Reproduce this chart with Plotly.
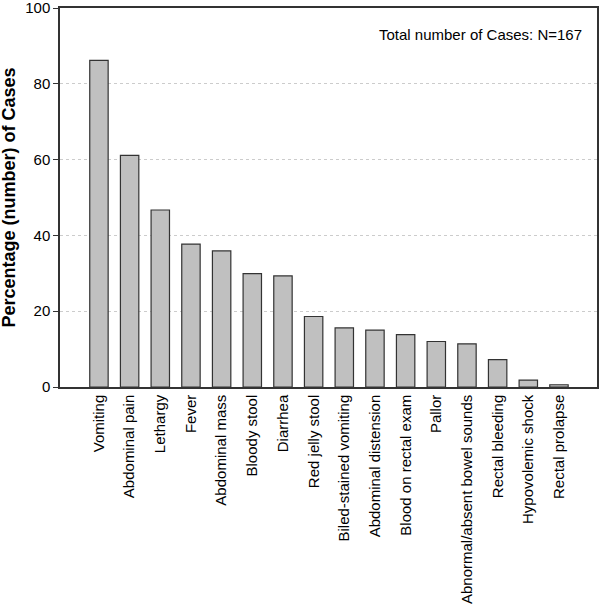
import plotly.graph_objects as go

categories = ["Vomiting", "Abdominal pain", "Lethargy", "Fever", "Abdominal mass",
              "Bloody stool", "Diarrhea", "Red jelly stool", "Biled-stained vomiting",
              "Abdominal distension", "Blood on rectal exam", "Pallor",
              "Abnormal/absent bowel sounds", "Rectal bleeding", "Hypovolemic shock",
              "Rectal prolapse"]
percentages = [86.2, 61.1, 46.7, 37.7, 35.9, 29.9, 29.3, 18.6, 15.6, 15.0, 13.8,
               12.0, 11.4, 7.2, 1.8, 0.6]
y_ticks = [0, 20, 40, 60, 80, 100]
y_title = "<b>Percentage (number) of Cases</b>"
note = "Total number of Cases: N=167"

fig = go.Figure(go.Bar(
    x=list(range(len(categories))), y=percentages, width=0.6,
    marker=dict(color="#c0c0c0", line=dict(color="#333333", width=1.2)),
))

font_family = "Liberation Sans, Arial, sans-serif"
fig.update_layout(
    width=600, height=605,
    margin=dict(l=60, r=3, t=8, b=218),
    plot_bgcolor="white", paper_bgcolor="white",
    showlegend=False,
    font=dict(family=font_family, size=15, color="black"),
    xaxis=dict(
        range=[-1.27, 16.24], tickmode="array",
        tickvals=list(range(len(categories))), ticktext=categories,
        tickangle=-90, ticks="", showgrid=False,
        showline=True, linecolor="#333333", linewidth=1.5, mirror=True,
        tickfont=dict(size=15), zeroline=False, automargin=False,
        ticklabeloverflow="allow",
    ),
    yaxis=dict(
        range=[0, 100], tickvals=y_ticks,
        ticks="outside", ticklen=5, tickcolor="#333333", tickwidth=1.2,
        showline=True, linecolor="#333333", linewidth=1.5, mirror=True,
        showgrid=True, gridcolor="#cccccc", griddash="dot", gridwidth=1,
        zeroline=False, tickfont=dict(size=15), automargin=False,
        ticklabeloverflow="allow",
    ),
    annotations=[
        dict(text=note, xref="paper", yref="paper", x=0.975, y=0.93,
             xanchor="right", yanchor="middle", showarrow=False, font=dict(size=15)),
        dict(text=y_title, xref="paper", yref="paper", x=-0.095, y=0.5,
             xanchor="center", yanchor="middle", textangle=-90, showarrow=False,
             font=dict(size=18)),
    ],
)

fig.write_html("out.html", config={"displayModeBar": False},
               post_script="document.body.style.margin='0';document.body.style.overflow='hidden';")
